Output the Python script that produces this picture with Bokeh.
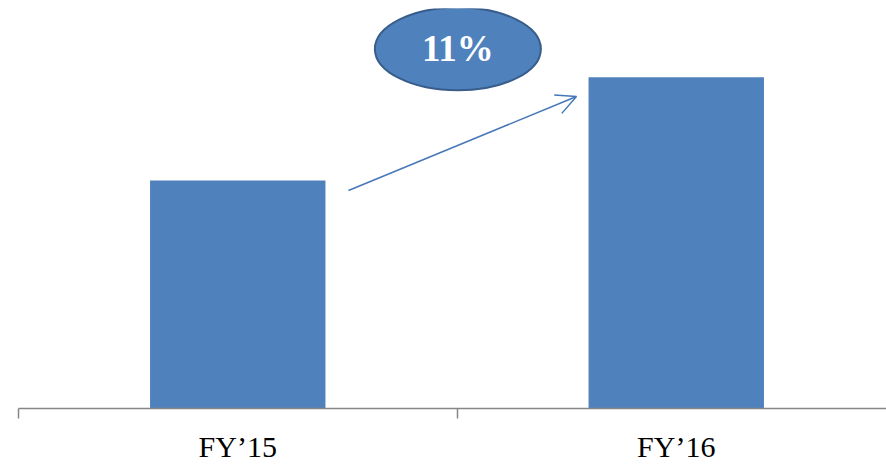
from bokeh.plotting import figure
from bokeh.models import Range1d, FixedTicker, Arrow, OpenHead, ColumnDataSource
from bokeh.core.properties import value
from bokeh.embed import file_html
from bokeh.resources import INLINE

# data (heights, arbitrary units)
categories = ["FY\u201915", "FY\u201916"]
values = [57.0, 82.8]
growth_label = "11%"

xs = [0.5, 1.5]
src = ColumnDataSource(dict(x=xs, top=values, cat=categories))

p = figure(width=886, height=465, output_backend="svg", toolbar_location=None,
           x_range=Range1d(0, 868 / 438.5), y_range=Range1d(0, 100),
           min_border_left=18, min_border_right=0, min_border_top=8,
           min_border_bottom=57)
p.outline_line_color = None
p.background_fill_color = "white"
p.border_fill_color = "white"
p.xgrid.visible = False
p.ygrid.visible = False
p.yaxis.visible = False

p.vbar(x="x", top="top", bottom=0, width=0.4, source=src,
       fill_color="#4F81BD", line_color=None)

ax = p.xaxis[0]
ax.ticker = FixedTicker(ticks=xs, minor_ticks=[0, 1, 2])
ax.major_label_overrides = {xs[i]: categories[i] for i in range(len(xs))}
ax.major_tick_out = 0
ax.major_tick_in = 0
ax.minor_tick_out = 10
ax.minor_tick_in = 0
ax.minor_tick_line_color = "#868686"
ax.minor_tick_line_width = 1.5
ax.axis_line_color = "#868686"
ax.axis_line_width = 1.5
ax.major_label_text_font = "Liberation Serif"
ax.major_label_text_font_size = "30px"
ax.major_label_text_color = "black"
ax.major_label_standoff = 11

# growth arrow from FY'15 towards FY'16
p.add_layout(Arrow(x_start=0.7526, y_start=54.5, x_end=1.2725, y_end=78.0,
                   line_color="#4677B8", line_width=1.5,
                   end=OpenHead(size=20, line_color="#4677B8", line_width=1.5)))

# ellipse badge
p.ellipse(x=[1.002], y=[89.9], width=[166 / 438.5], height=[83 / 4.0],
          fill_color="#4F81BD", line_color="#385D8A", line_width=2)
p.text(x=[1.002], y=[89.9], text=[growth_label], text_align="center",
       text_baseline="middle", text_color="white",
       text_font=value("Liberation Serif"), text_font_style="bold",
       text_font_size="37px")

open("out.html", "w").write(file_html(p, INLINE))
